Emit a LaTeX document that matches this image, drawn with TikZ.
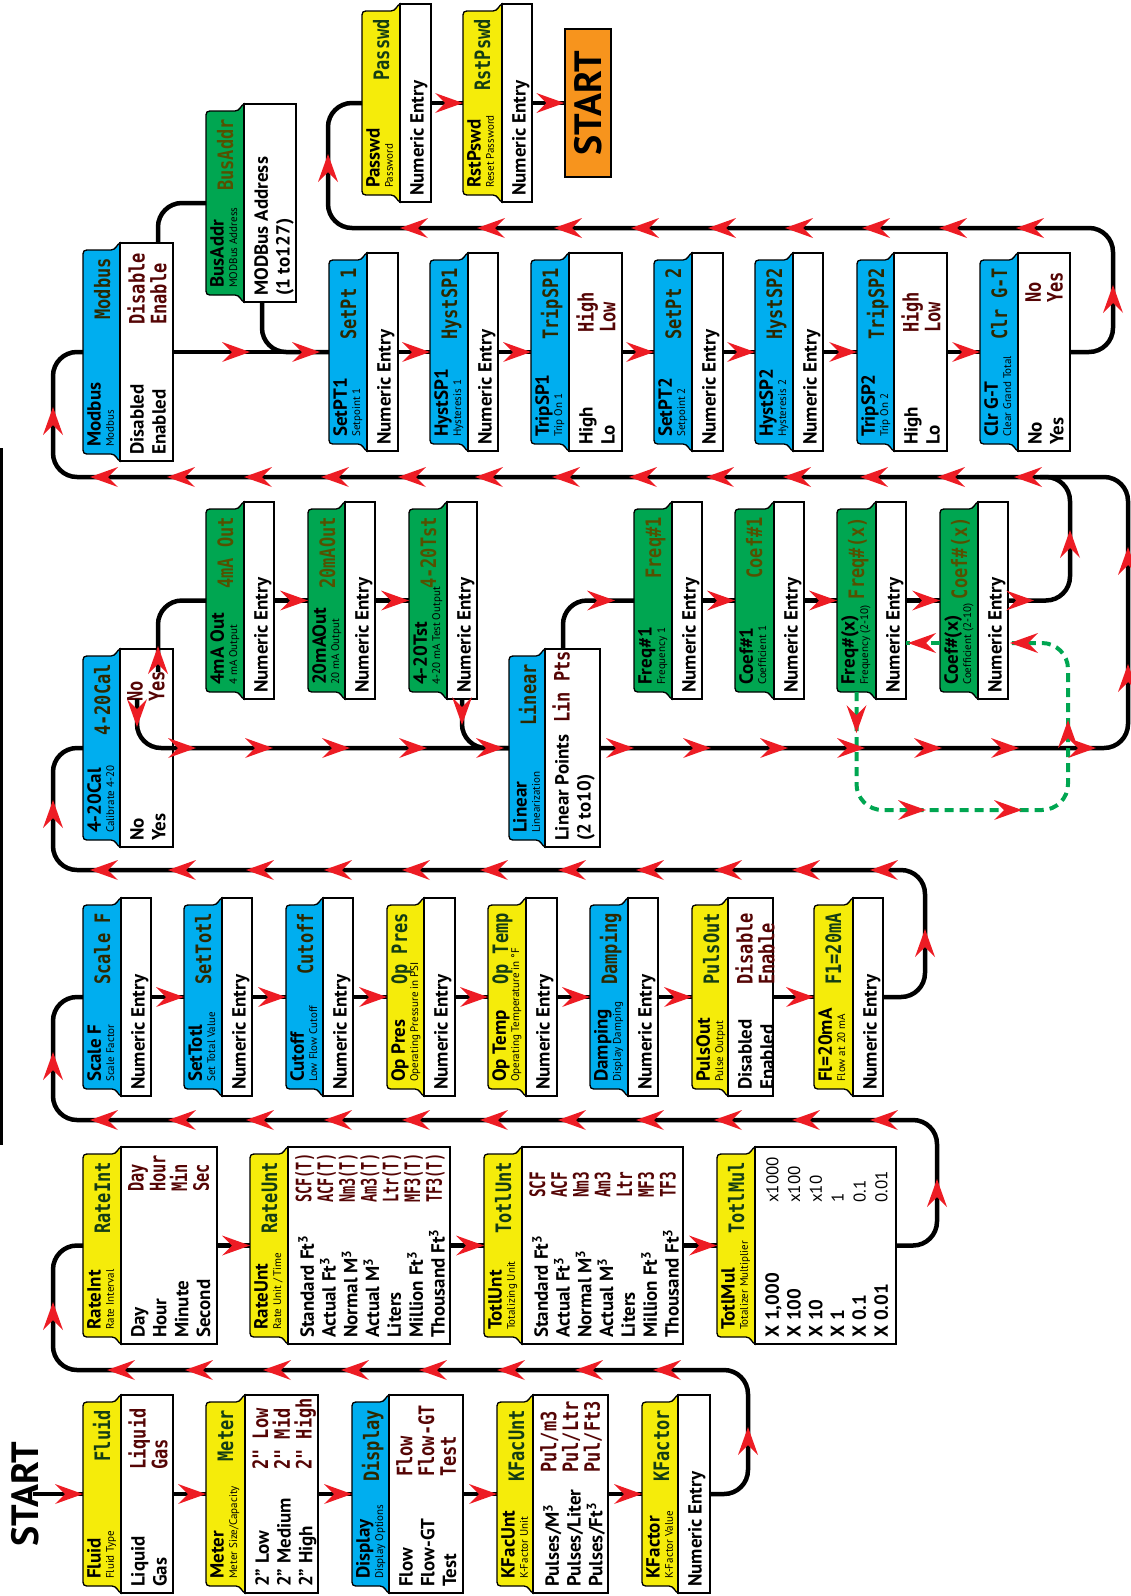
\documentclass[tikz,border=0pt]{standalone}
\usepackage{fontspec}
\setmainfont{PT Sans}
\newfontfamily\lcdfamily{DejaVu Sans Mono}

\definecolor{menuyellow}{RGB}{245,236,10}
\definecolor{menublue}{RGB}{0,174,239}
\definecolor{menugreen}{RGB}{0,166,81}
\definecolor{startorange}{RGB}{247,148,29}
\definecolor{flowred}{RGB}{237,28,36}
\definecolor{lcdgreen}{RGB}{20,60,20}
\definecolor{lcdolive}{RGB}{45,40,0}
\definecolor{lcdbrown}{RGB}{85,80,0}
\definecolor{lcdred}{RGB}{85,5,5}

\newcommand{\titlefont}{\fontsize{19}{19}\selectfont\bfseries}
\newcommand{\subfont}{\fontsize{11}{11}\selectfont}
\newcommand{\optfont}{\fontsize{19}{21.8}\selectfont\bfseries}
\newcommand{\lcdfont}{\fontsize{17}{17.4}\selectfont\lcdfamily\bfseries}
\newcommand{\startfont}{\fontsize{38}{38}\selectfont\bfseries}

\tikzset{
  vtxt/.style={rotate=90, inner sep=0pt},
  lcdtxt/.style={vtxt, yscale=1.25, font=\lcdfont},
  bodybox/.style={draw, line width=1.3pt, fill=white, inner sep=0pt},
  flow/.style={line width=4.5pt, rounded corners=24pt},
  loopflow/.style={menugreen, line width=4pt, dash pattern=on 9pt off 6pt, rounded corners=26pt},
  flowtip/.pic={\fill[flowred] (0,0) -- (-28,10) -- (-18,0) -- (-28,-10) -- cycle;},
}

% id, fill, header x, body x, right x, top y, bottom y
\newcommand{\menubox}[7]{%
  \def\curid{#1}\def\mhx{#3}\def\mbx{#4}\def\mty{#6}\def\mby{#7}%
  \filldraw[fill=#2, line width=1.3pt] ({#4},{#6}) .. controls ({#4-3},{#6+1}) and ({#4-4},{#6+7}) .. ({#4-9},{#6+7})
    -- ({#3+8},{#6+7}) .. controls ({#3},{#6+7}) .. ({#3},{#6+15})
    -- ({#3},{#7-15}) .. controls ({#3},{#7-7}) .. ({#3+8},{#7-7})
    -- ({#4-9},{#7-7}) .. controls ({#4-4},{#7-7}) and ({#4-3},{#7-1}) .. ({#4},{#7}) -- cycle;
  \node[bodybox, minimum width={(#5-#4)*1pt}, minimum height={(#7-#6)*1pt}] (#1) at ({(#4+#5)/2},{(#6+#7)/2}) {};
  \coordinate (#1-in) at ({#3},{(#6+#7)/2});
}
\newcommand{\hdr}[5][27]{%
  \node[vtxt, font=\titlefont, anchor=north west] (\curid-title) at ({\mhx+4},{\mby-14}) {#2};
  \node[vtxt, font=\subfont, anchor=north west] (\curid-sub) at ({\mhx+23},{\mby-14}) {#3};
  \node[lcdtxt, text=#5, anchor=base east] (\curid-lcd) at ({\mhx+#1},{\mty+15}) {#4};
}
\newcommand{\opts}[1]{%
  \node[vtxt, font=\optfont, align=left, anchor=north west] (\curid-opts) at ({\mbx+10},{\mby-6}) {#1};
}
\newcommand{\lcdopts}[4][]{%
  \node[lcdtxt, #1, text=#4, align=left, anchor=north west] (\curid-show) at ({\mbx+7},{#3}) {#2};
}

\begin{document}
\begin{tikzpicture}[x=1pt, y=-1pt]
\useasboundingbox (0,0) rectangle (1131,1596);

\node[vtxt, font=\startfont] (start) at (25,1494) {START};
\draw[line width=2.5pt] (1.5,448) -- (1.5,1145);

% row 1
\menubox{fluid}{menuyellow}{83}{121}{173}{1395}{1593}
\hdr{Fluid}{Fluid Type}{Fluid}{lcdgreen}
\opts{Liquid\\Gas}
\lcdopts{Liquid\\Gas}{1470}{lcdred}

\menubox{meter}{menuyellow}{206}{245}{318}{1395}{1593}
\hdr{Meter}{Meter Size/Capacity}{Meter}{lcdgreen}
\opts{2” Low\\2” Medium\\2” High}
\lcdopts{2" Low\\2" Mid\\2" High}{1470}{lcdred}

\menubox{display}{menublue}{352}{389}{463}{1395}{1593}
\hdr{Display}{Display Options}{Display}{lcdolive}
\opts{Flow\\Flow-GT\\Test}
\lcdopts{Flow\\Flow-GT\\Test}{1477}{lcdred}

\menubox{kfacunt}{menuyellow}{497}{533}{608}{1395}{1593}
\hdr{KFacUnt}{K-Factor Unit}{KFacUnt}{lcdgreen}
\opts{Pulses/M\textsuperscript{3}\\Pulses/Liter\\Pulses/Ft\textsuperscript{3}}
\lcdopts{Pul/m3\\Pul/Ltr\\Pul/Ft3}{1473}{lcdred}

\menubox{kfactor}{menuyellow}{642}{678}{710}{1395}{1593}
\hdr{KFactor}{K-Factor Value}{KFactor}{lcdgreen}
\opts{Numeric Entry}

% row 2
\menubox{rateint}{menuyellow}{83}{121}{217}{1147}{1344}
\hdr{RateInt}{Rate Interval}{RateInt}{lcdgreen}
\opts{Day\\Hour\\Minute\\Second}
\lcdopts[xscale=0.9]{Day\\Hour\\Min\\Sec}{1192}{lcdred}

\menubox{rateunt}{menuyellow}{250}{288}{450}{1147}{1344}
\hdr{RateUnt}{Rate Unit / Time}{RateUnt}{lcdgreen}
\opts{Standard Ft\textsuperscript{3}\\Actual Ft\textsuperscript{3}\\Normal M\textsuperscript{3}\\Actual M\textsuperscript{3}\\Liters\\Million Ft\textsuperscript{3}\\Thousand Ft\textsuperscript{3}}
\lcdopts[xscale=0.8]{SCF(T)\\ACF(T)\\Nm3(T)\\Am3(T)\\Ltr(T)\\MF3(T)\\TF3(T)}{1203}{lcdred}

\menubox{totlunt}{menuyellow}{484}{522}{683}{1147}{1344}
\hdr{TotlUnt}{Totalizing Unit}{TotlUnt}{lcdgreen}
\opts{Standard Ft\textsuperscript{3}\\Actual Ft\textsuperscript{3}\\Normal M\textsuperscript{3}\\Actual M\textsuperscript{3}\\Liters\\Million Ft\textsuperscript{3}\\Thousand Ft\textsuperscript{3}}
\lcdopts[xscale=0.85]{SCF\\ACF\\Nm3\\Am3\\Ltr\\MF3\\TF3}{1198}{lcdred}

\menubox{totlmul}{menuyellow}{717}{755}{896}{1147}{1344}
\hdr{TotlMul}{Totalizer Multiplier}{TotlMul}{lcdgreen}
\opts{X 1,000\\X 100\\X 10\\X 1\\X 0.1\\X 0.01}
\node[vtxt, font=\fontsize{17}{21.8}\selectfont, align=left, anchor=north west] (totlmul-show) at (766,1203) {x1000\\x100\\x10\\1\\0.1\\0.01};

% row 3
\menubox{scalef}{menublue}{83}{121}{151}{898}{1096}
\hdr{Scale F}{Scale Factor}{Scale F}{lcdolive}
\opts{Numeric Entry}

\menubox{settotl}{menublue}{184}{222}{252}{898}{1096}
\hdr{SetTotl}{Set Total Value}{SetTotl}{lcdolive}
\opts{Numeric Entry}

\menubox{cutoff}{menublue}{286}{323}{353}{898}{1096}
\hdr{Cutoff}{Low Flow Cutoff}{Cutoff}{lcdolive}
\opts{Numeric Entry}

\menubox{oppres}{menuyellow}{387}{424}{455}{898}{1096}
\hdr[20]{Op Pres}{Operating Pressure in PSI}{Op Pres}{lcdgreen}
\opts{Numeric Entry}

\menubox{optemp}{menuyellow}{488}{526}{557}{898}{1096}
\hdr[20]{Op Temp}{Operating Temperature in °F}{Op Temp}{lcdgreen}
\opts{Numeric Entry}

\menubox{damping}{menublue}{590}{628}{658}{898}{1096}
\hdr{Damping}{Display Damping}{Damping}{lcdolive}
\opts{Numeric Entry}

\menubox{pulsout}{menuyellow}{692}{728}{773}{898}{1096}
\hdr{PulsOut}{Pulse Output}{PulsOut}{lcdgreen}
\opts{Disabled\\Enabled}
\lcdopts{Disable\\Enable}{985}{lcdred}

\menubox{fl20ma}{menuyellow}{814}{853}{883}{898}{1096}
\hdr{Fl=20mA}{Flow at 20 mA}{F1=20mA}{lcdgreen}
\opts{Numeric Entry}

% row 4
\menubox{cal420}{menublue}{83}{120}{173}{649}{847}
\hdr{4-20Cal}{Calibrate 4-20}{4-20Cal}{lcdolive}
\opts{No\\Yes}
\lcdopts{No\\Yes}{702}{lcdred}

\menubox{ma4out}{menugreen}{206}{244}{274}{502}{699}
\hdr{4mA Out}{4 mA Output}{4mA Out}{lcdbrown}
\opts{Numeric Entry}

\menubox{ma20out}{menugreen}{308}{345}{375}{502}{699}
\hdr{20mAOut}{20 mA Output}{20mAOut}{lcdbrown}
\opts{Numeric Entry}

\menubox{tst420}{menugreen}{409}{447}{477}{502}{699}
\hdr{4-20Tst}{4-20 mA Test Output}{4-20Tst}{lcdbrown}
\opts{Numeric Entry}

\menubox{linear}{menublue}{509}{545}{600}{649}{847}
\hdr{Linear}{Linearization}{Linear}{lcdolive}
\opts{Linear Points\\(2 to10)}
\lcdopts{Lin Pts}{723}{lcdred}

\menubox{freq1}{menugreen}{634}{672}{702}{502}{699}
\hdr{Freq\#1}{Frequency 1}{Freq\#1}{lcdbrown}
\opts{Numeric Entry}

\menubox{coef1}{menugreen}{735}{774}{804}{502}{699}
\hdr{Coef\#1}{Coefficient 1}{Coef\#1}{lcdbrown}
\opts{Numeric Entry}

\menubox{freqx}{menugreen}{837}{876}{906}{502}{699}
\hdr{Freq\#(x)}{Frequency (2-10)}{Freq\#(x)}{lcdbrown}
\opts{Numeric Entry}

\menubox{coefx}{menugreen}{940}{978}{1008}{502}{699}
\hdr{Coef\#(x)}{Coefficient (2-10)}{Coef\#(x)}{lcdbrown}
\opts{Numeric Entry}

% row 5
\menubox{modbus}{menublue}{83}{120}{173}{243}{461}
\hdr{Modbus}{Modbus}{Modbus}{lcdolive}
\opts{Disabled\\Enabled}
\lcdopts{Disable\\Enable}{325}{lcdred}

\menubox{busaddr}{menugreen}{206}{244}{296}{104}{302}
\hdr{BusAddr}{MODBus Address}{BusAddr}{lcdbrown}
\opts{MODBus Address\\(1 to127)}

\menubox{setpt1}{menublue}{329}{367}{398}{253}{451}
\hdr{SetPT1}{Setpoint 1}{SetPt 1}{lcdolive}
\opts{Numeric Entry}

\menubox{hystsp1}{menublue}{430}{468}{498}{253}{451}
\hdr{HystSP1}{Hysteresis 1}{HystSP1}{lcdolive}
\opts{Numeric Entry}

\menubox{tripsp1}{menublue}{531}{569}{622}{253}{451}
\hdr{TripSP1}{Trip On 1}{TripSP1}{lcdolive}
\opts{High\\Lo}
\lcdopts{High\\Low}{333}{lcdred}

\menubox{setpt2}{menublue}{654}{692}{723}{253}{451}
\hdr{SetPT2}{Setpoint 2}{SetPt 2}{lcdolive}
\opts{Numeric Entry}

\menubox{hystsp2}{menublue}{755}{793}{823}{253}{451}
\hdr{HystSP2}{Hysteresis 2}{HystSP2}{lcdolive}
\opts{Numeric Entry}

\menubox{tripsp2}{menublue}{857}{894}{947}{253}{451}
\hdr{TripSP2}{Trip On 2}{TripSP2}{lcdolive}
\opts{High\\Lo}
\lcdopts{High\\Low}{333}{lcdred}

\menubox{clrgt}{menublue}{980}{1018}{1070}{253}{451}
\hdr{Clr G-T}{Clear Grand Total}{Clr G-T}{lcdolive}
\opts{No\\Yes}
\lcdopts{No\\Yes}{303}{lcdred}

% row 6
\menubox{passwd}{menuyellow}{362}{400}{431}{4}{202}
\hdr{Passwd}{Password}{Passwd}{lcdgreen}
\opts{Numeric Entry}

\menubox{rstpswd}{menuyellow}{463}{502}{532}{4}{202}
\hdr{RstPswd}{Reset Password}{RstPswd}{lcdgreen}
\opts{Numeric Entry}

\node[vtxt, draw, line width=1.3pt, fill=startorange, minimum width=148pt, minimum height=46pt, font=\startfont] (startbox) at (588,103) {START};

% connectors
\draw[flow] ([xshift=-6pt]start.south) -- (fluid-in);
\draw[flow] (fluid) -- (meter-in);
\draw[flow] (meter) -- (display-in);
\draw[flow] (display) -- (kfacunt-in);
\draw[flow] (kfacunt) -- (kfactor-in);
\draw[flow] (kfactor.east) -| (748,1370) -| (53,1245.5) -- (rateint-in);
\draw[flow] (rateint) -- (rateunt-in);
\draw[flow] (rateunt) -- (totlunt-in);
\draw[flow] (totlunt) -- (totlmul-in);
\draw[flow] (totlmul.east) -| (937,1120) -| (53,997) -- (scalef-in);
\draw[flow] (scalef) -- (settotl-in);
\draw[flow] (settotl) -- (cutoff-in);
\draw[flow] (cutoff) -- (oppres-in);
\draw[flow] (oppres) -- (optemp-in);
\draw[flow] (optemp) -- (damping-in);
\draw[flow] (damping) -- (pulsout-in);
\draw[flow] (pulsout) -- (fl20ma-in);
\draw[flow] (fl20ma.east) -| (925,870) -| (53,748) -- (cal420-in);
\coordinate (cal420-no) at (137,699);
\coordinate (cal420-yes) at (158,672);
\draw[flow] (cal420-no) |- (linear-in);
\draw[flow] (cal420-yes) |- (ma4out-in);
\draw[flow] (ma4out) -- (ma20out-in);
\draw[flow] (ma20out) -- (tst420-in);
\draw[flow] (tst420.south) |- (linear-in);
\coordinate (linear-up) at (563,649);
\draw[flow] (linear-up) |- (freq1-in);
\draw[flow] (freq1) -- (coef1-in);
\draw[flow] (coef1) -- (freqx-in);
\draw[flow] (freqx) -- (coefx-in);
\draw[flow] (coefx.east) -| (1070,477) -- (1040,477);
\draw[flow] (linear.east) -| (1128,477) -| (53,352) -- (modbus-in);
\coordinate (modbus-en) at (158,243);
\draw[flow] (modbus-en) |- (busaddr-in);
\coordinate (busaddr-dn) at (262,302);
\draw[flow] (busaddr-dn) |- (setpt1-in);
\draw[flow] (modbus) -- (setpt1-in);
\draw[flow] (setpt1) -- (hystsp1-in);
\draw[flow] (hystsp1) -- (tripsp1-in);
\draw[flow] (tripsp1) -- (setpt2-in);
\draw[flow] (setpt2) -- (hystsp2-in);
\draw[flow] (hystsp2) -- (tripsp2-in);
\draw[flow] (tripsp2) -- (clrgt-in);
\draw[flow] (clrgt.east) -| (1113,228) -| (328,103) -- (passwd-in);
\draw[flow] (passwd) -- (rstpswd-in);
\draw[flow] (rstpswd) -- (startbox);

% repeat loop for points 2..10
\coordinate (freqx-loop) at (856.5,692);
\coordinate (coefx-back) at (1008,643);
\coordinate (coefx-from) at (940,643);
\coordinate (freqx-back) at (906,643);
\draw[loopflow] (freqx-loop) |- (1068,810) |- (coefx-back);
\draw[loopflow] (coefx-from) -- (freqx-back);

% arrow heads
\foreach \n in {fluid,meter,display,kfacunt,kfactor,rateunt,totlunt,totlmul,
  settotl,cutoff,oppres,optemp,damping,pulsout,fl20ma,ma20out,tst420,
  coef1,freqx,coefx,hystsp1,tripsp1,setpt2,hystsp2,tripsp2,clrgt,rstpswd}
  \pic at (\n-in) {flowtip};
\pic at (startbox.north) {flowtip};
\foreach \x in {107,185,...,653} \pic[rotate=180] at (\x,1370) {flowtip};
\foreach \x in {90,168,...,870} {\pic[rotate=180] at (\x,1120) {flowtip}; \pic[rotate=180] at (\x,870) {flowtip};}
\foreach \x in {90,167,...,1014} \pic[rotate=180] at (\x,477) {flowtip};
\foreach \x in {400,477,...,1016} \pic[rotate=180] at (\x,228) {flowtip};
\foreach \x in {196,273,...,504} \pic at (\x,748) {flowtip};
\foreach \x in {634,711,...,1096} \pic at (\x,748) {flowtip};
\foreach \x/\y in {748/1427,53/1302,937/1179,53/1052,925/929,53/800,1128/664,1128/547,
  1070/530,53/407,1113/285,328/154,158/646,1068/720}
  \pic[rotate=90] at (\x,\y) {flowtip};
\foreach \x/\y in {137/727,462/725,856.5/733} \pic[rotate=-90] at (\x,\y) {flowtip};
\foreach \x/\y in {615/600.5,1034/600.5,250/352,320/352,926/810,1022/810} \pic at (\x,\y) {flowtip};
\foreach \x/\y in {1010/643,908/643} \pic[rotate=180] at (\x,\y) {flowtip};
\end{tikzpicture}
\end{document}
